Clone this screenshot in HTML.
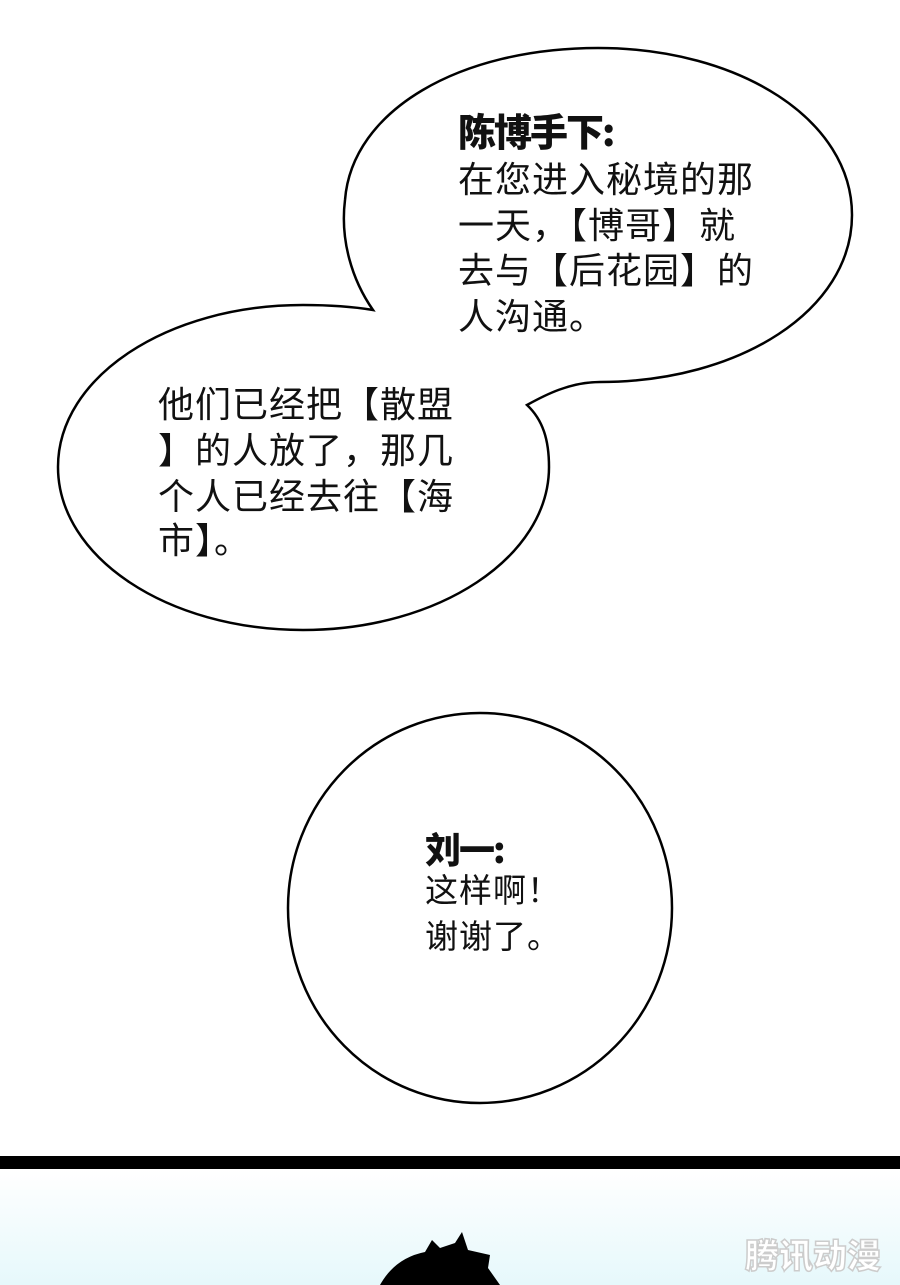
<!DOCTYPE html>
<html><head><meta charset="utf-8"><style>
body{margin:0;width:900px;height:1285px;position:relative;overflow:hidden;background:#fff;font-family:"Liberation Sans","Noto Sans CJK SC",sans-serif;}
.t{position:absolute;font-size:36px;line-height:46px;letter-spacing:1px;color:#111;white-space:nowrap;}
.b{font-weight:900;font-family:"Noto Sans CJK SC","WenQuanYi Zen Hei",sans-serif;letter-spacing:-2px;}
</style></head><body>
<svg width="900" height="1285" style="position:absolute;left:0;top:0">
<defs><linearGradient id="g" x1="0" y1="0" x2="0" y2="1"><stop offset="0" stop-color="#fff"/><stop offset="1" stop-color="#e6f8fb"/></linearGradient></defs>
<rect x="0" y="1170" width="900" height="115" fill="url(#g)"/>
<rect x="0" y="1156" width="900" height="13" fill="#000"/>
<path d="M373 310 C352 280 340 240 345 200 C352 110 460 48 598 48 C740 48 852 120 852 215 C852 310 740 382 600 382 C570 382 545 395 527 405 C543 420 549 440 549 467 C549 557 439 630 303 630 C167 630 58 557 58 467 C58 377 167 305 303 305 C330 305 355 307 373 310 Z" fill="#fff" stroke="#000" stroke-width="2.5" stroke-linejoin="miter"/>
<ellipse cx="480" cy="908" rx="192" ry="195" fill="#fff" stroke="#000" stroke-width="2.5"/>
<path d="M380 1285 Q395 1258 425 1252 L432 1240 L440 1248 L455 1243 L462 1232 L468 1250 L490 1255 L488 1268 L500 1285 Z" fill="#000"/>
<text x="745" y="1268" font-size="34" font-weight="900" fill="#fff" stroke="#ccc" stroke-width="1.5" font-family="Noto Sans CJK SC,sans-serif">腾讯动漫</text>
</svg>
<div class="t b" style="left:458px;top:107px;font-size:38px">陈博手下:</div>
<div class="t" style="left:458px;top:157px">在您进入秘境的那</div>
<div class="t" style="left:458px;top:203px">一天，【博哥】就</div>
<div class="t" style="left:458px;top:248px">去与【后花园】的</div>
<div class="t" style="left:458px;top:294px">人沟通。</div>
<div class="t" style="left:158px;top:382px">他们已经把【散盟</div>
<div class="t" style="left:158px;top:428px">】的人放了，那几</div>
<div class="t" style="left:158px;top:474px">个人已经去往【海</div>
<div class="t" style="left:158px;top:518px">市】。</div>
<div class="t b" style="left:425px;top:825px;font-size:36px">刘一:</div>
<div class="t" style="left:425px;top:868px;font-size:33px">这样啊！</div>
<div class="t" style="left:425px;top:914px;font-size:33px">谢谢了。</div>
</body></html>
